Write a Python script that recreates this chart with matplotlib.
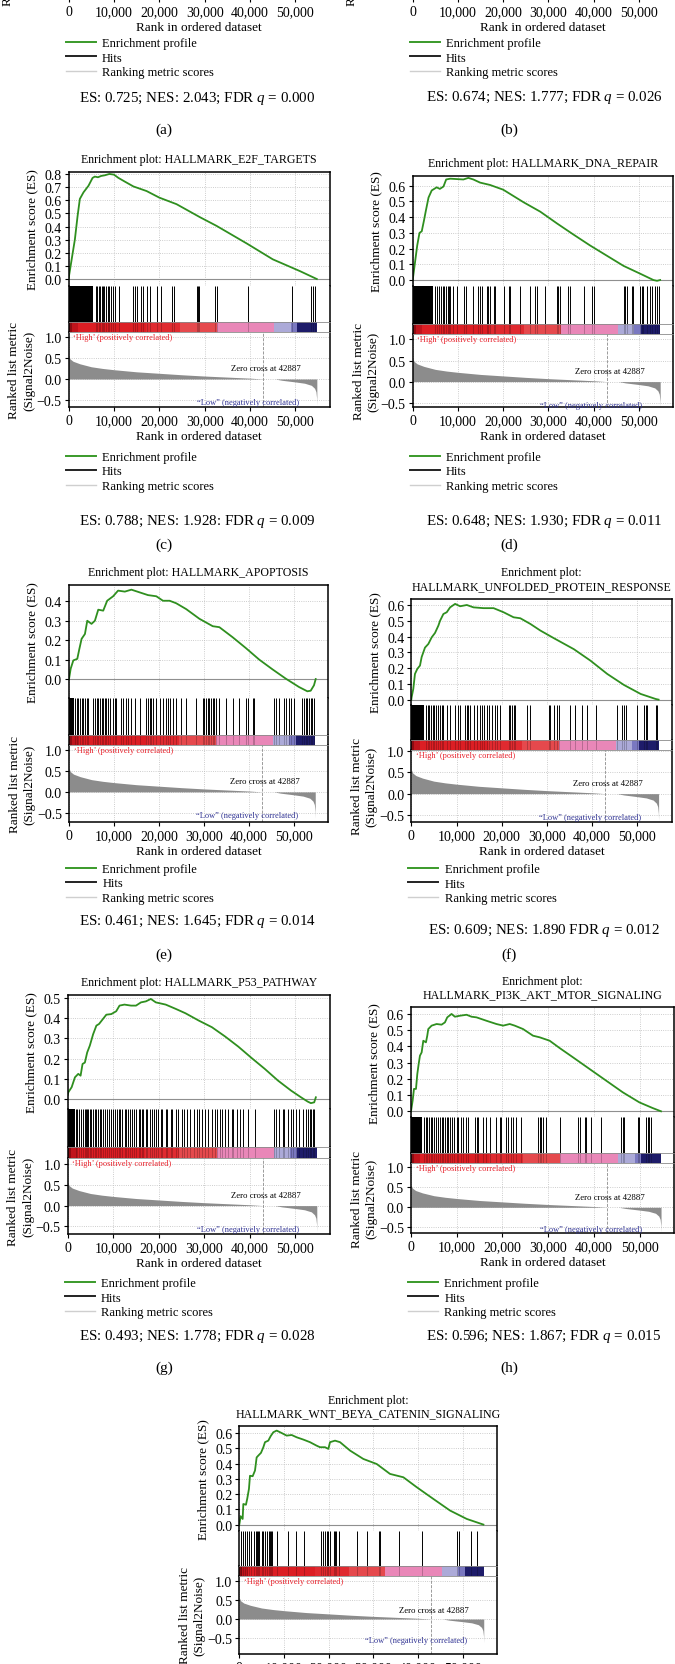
import numpy as np
import matplotlib
matplotlib.use('Agg')
import matplotlib.pyplot as plt
from matplotlib import ticker
from matplotlib.lines import Line2D

plt.rcParams['font.family'] = ['Liberation Serif', 'DejaVu Serif']
plt.rcParams['mathtext.fontset'] = 'custom'
plt.rcParams['mathtext.rm'] = 'Liberation Serif'
plt.rcParams['mathtext.it'] = 'Liberation Serif:italic'

W, H = 675, 1665
ZERO_CROSS = 42887
X_MAX = 57600

# ranked list metric, shared by every panel
rank_x = [0, 300, 1000, 2500, 5000, 7500, 10000, 15000, 20000, 25000, 30000, 35000, 40000, 42887,
          45500, 47000, 50000, 52000, 53500, 54200, 54500, 54650, 54700]
rank_y = [0.56, 0.48, 0.42, 0.36, 0.29, 0.25, 0.22, 0.17, 0.135, 0.10, 0.07, 0.045, 0.02, 0.0,
          0.0, -0.03, -0.07, -0.10, -0.15, -0.22, -0.30, -0.45, -0.62]

# colour bar blocks along the ranked list
cbar_edges = [0, 700, 2000, 17000, 24500, 32700, 45300, 48900, 50400, 54700]
cbar_colors = ['#8c0c12', '#c0141c', '#dc1e24', '#e02a30', '#e5494d', '#e987b8', '#acaad8', '#7a78c0',
               '#1e1c6a']

titles = {
    'c': 'Enrichment plot: HALLMARK_E2F_TARGETS',
    'd': 'Enrichment plot: HALLMARK_DNA_REPAIR',
    'e': 'Enrichment plot: HALLMARK_APOPTOSIS',
    'f': 'Enrichment plot:\nHALLMARK_UNFOLDED_PROTEIN_RESPONSE',
    'g': 'Enrichment plot: HALLMARK_P53_PATHWAY',
    'h': 'Enrichment plot:\nHALLMARK_PI3K_AKT_MTOR_SIGNALING',
    'i': 'Enrichment plot:\nHALLMARK_WNT_BEYA_CATENIN_SIGNALING',
}

stats = {
    'a': 'ES: 0.725; NES: 2.043; FDR $q$ = 0.000',
    'b': 'ES: 0.674; NES: 1.777; FDR $q$ = 0.026',
    'c': 'ES: 0.788; NES: 1.928: FDR $q$ = 0.009',
    'd': 'ES: 0.648; NES: 1.930; FDR $q$ = 0.011',
    'e': 'ES: 0.461; NES: 1.645; FDR $q$ = 0.014',
    'f': 'ES: 0.609; NES: 1.890 FDR $q$ = 0.012',
    'g': 'ES: 0.493; NES: 1.778; FDR $q$ = 0.028',
    'h': 'ES: 0.596; NES: 1.867; FDR $q$ = 0.015',
}

# running enrichment score
c_es_x = [0, 700, 1400, 2000, 2500, 3300, 4400, 5300, 5800, 6500, 7200, 8000, 9000, 10000, 11000, 12500,
          14300, 17200, 20000, 23800, 29000, 32600, 39300, 45000, 51000, 54700]
c_es_y = [0, 0.15, 0.30, 0.48, 0.61, 0.66, 0.71, 0.77, 0.78, 0.775, 0.785, 0.79, 0.80, 0.795, 0.77, 0.74,
          0.705, 0.67, 0.62, 0.57, 0.47, 0.405, 0.27, 0.15, 0.06, 0.0]
d_es_x = [0, 500, 1000, 1500, 2000, 2500, 2900, 3500, 4200, 5300, 6000, 6800, 7400, 8300, 11200, 12300,
          13400, 14900, 17100, 20000, 24500, 28200, 31900, 35500, 39200, 42900, 46600, 50300, 53200, 54000,
          54700]
d_es_y = [0, 0.11, 0.22, 0.30, 0.31, 0.38, 0.44, 0.525, 0.57, 0.59, 0.58, 0.595, 0.64, 0.645, 0.64, 0.65,
          0.64, 0.62, 0.605, 0.575, 0.495, 0.435, 0.36, 0.29, 0.22, 0.155, 0.09, 0.04, 0.0, -0.005, 0.0]
e_es_x = [0, 370, 960, 1840, 2300, 2800, 3540, 4060, 5000, 5750, 6500, 7600, 8480, 9800, 10900, 12400,
          13860, 15700, 17550, 19400, 20870, 22350, 23820, 26030, 28980, 31930, 33400, 36360, 39310, 42260,
          45200, 48160, 51100, 52950, 53690, 54420, 54800]
e_es_y = [0, 0.053, 0.096, 0.104, 0.155, 0.207, 0.232, 0.30, 0.284, 0.30, 0.357, 0.352, 0.403, 0.426,
          0.455, 0.45, 0.46, 0.446, 0.432, 0.426, 0.403, 0.403, 0.39, 0.36, 0.31, 0.272, 0.267, 0.215,
          0.159, 0.10, 0.05, 0.002, -0.041, -0.063, -0.06, -0.032, 0.0]
f_es_x = [0, 70, 440, 810, 1330, 1920, 2290, 3030, 3770, 4510, 5250, 6000, 6360, 7100, 7840, 8580, 9690,
          10800, 12280, 13760, 15980, 18200, 20410, 22630, 24110, 26330, 28550, 31510, 35950, 39640, 43340,
          47040, 50740, 54070, 54700]
f_es_y = [0, 0.015, 0.068, 0.163, 0.195, 0.216, 0.27, 0.33, 0.353, 0.395, 0.423, 0.47, 0.50, 0.543, 0.554,
          0.585, 0.607, 0.592, 0.60, 0.585, 0.58, 0.58, 0.554, 0.522, 0.516, 0.48, 0.438, 0.39, 0.32, 0.247,
          0.163, 0.093, 0.036, 0.004, 0.0]
g_es_x = [0, 145, 870, 1590, 2320, 2830, 3260, 3770, 4280, 4860, 5580, 6300, 6880, 7750, 8480, 9570,
          10650, 11380, 12460, 13910, 15000, 16090, 17170, 18260, 19350, 21520, 23700, 25870, 28770, 31670,
          34570, 37460, 40360, 43260, 46160, 49060, 51230, 52680, 53400, 54130, 54490]
g_es_y = [0.02, 0.033, 0.058, 0.107, 0.124, 0.115, 0.173, 0.18, 0.23, 0.264, 0.32, 0.363, 0.371, 0.396,
          0.417, 0.42, 0.434, 0.462, 0.467, 0.462, 0.462, 0.478, 0.483, 0.495, 0.478, 0.467, 0.446, 0.424,
          0.388, 0.355, 0.309, 0.259, 0.203, 0.149, 0.091, 0.041, 0.008, -0.013, -0.021, -0.017, 0.008]
h_es_x = [0, 360, 650, 1090, 1380, 1670, 1960, 2330, 2690, 3270, 3560, 3780, 4510, 5600, 6690, 7420, 7930,
          8870, 9600, 10690, 12150, 13240, 14330, 16510, 18690, 20150, 21600, 22690, 24510, 26690, 28150,
          30330, 32510, 35420, 39050, 42690, 46330, 49960, 52870, 54690]
h_es_y = [0, 0.066, 0.138, 0.138, 0.23, 0.29, 0.343, 0.363, 0.435, 0.425, 0.466, 0.507, 0.528, 0.538,
          0.534, 0.548, 0.579, 0.60, 0.583, 0.589, 0.595, 0.583, 0.579, 0.558, 0.538, 0.528, 0.538, 0.528,
          0.507, 0.466, 0.456, 0.435, 0.39, 0.333, 0.261, 0.189, 0.117, 0.055, 0.02, 0.0]
i_es_x = [0, 300, 750, 900, 1490, 1790, 2160, 2390, 2990, 3510, 3880, 4250, 4850, 5370, 5750, 6490, 7010,
          7610, 8360, 9480, 10600, 11720, 12840, 14330, 15820, 17310, 18060, 19180, 19930, 20300, 21420,
          22540, 24780, 27760, 30750, 33730, 36720, 39700, 43430, 47160, 50900, 54630]
i_es_y = [0, 0.055, 0.037, 0.135, 0.13, 0.172, 0.234, 0.32, 0.317, 0.354, 0.44, 0.452, 0.47, 0.506, 0.54,
          0.55, 0.579, 0.605, 0.616, 0.60, 0.583, 0.587, 0.572, 0.557, 0.54, 0.517, 0.507, 0.507, 0.496,
          0.54, 0.55, 0.54, 0.485, 0.43, 0.397, 0.332, 0.31, 0.245, 0.168, 0.092, 0.037, 0.0]

# gene-set hits: ranges too dense to resolve, then single hits
c_dense = [(0, 5400)]
c_hits = [6000, 6300, 6700, 7000, 7300, 7600, 7900, 8200, 8600, 9000, 9300, 9800, 10300, 11200, 14300,
          14650, 15100, 15900, 16500, 17300, 17900, 19500, 20300, 22700, 23300, 28200, 28500, 28800, 32300,
          32700, 39600, 49200, 53500, 53900, 54300]
d_dense = [(0, 4500)]
d_hits = [5000, 5400, 5800, 6200, 6600, 7000, 7300, 7700, 8000, 8300, 9000, 9700, 11400, 11700, 13400,
          14500, 14900, 15300, 16400, 16700, 17100, 17900, 18200, 20100, 21200, 21500, 23700, 26000, 27100,
          27400, 29300, 31900, 32200, 32600, 34400, 34800, 37800, 39600, 40000, 46600, 47000, 47300, 48400,
          48800, 50300, 50700, 51000, 51800, 52500, 52900, 53600, 54000, 54400]
e_dense = [(0, 1000)]
e_hits = [1330, 1700, 2060, 2430, 2800, 3020, 3540, 3910, 4280, 5380, 5750, 6120, 6490, 6860, 7230, 7600,
          7960, 8330, 8700, 9070, 9810, 10180, 10550, 11650, 12020, 12760, 13130, 13860, 14600, 15710,
          17180, 17550, 17920, 18290, 18660, 19400, 20130, 20870, 21610, 21980, 22340, 23080, 23820, 24930,
          26030, 28240, 29720, 30090, 30460, 30830, 31190, 31560, 31930, 32300, 32670, 33410, 34880, 36360,
          37830, 39310, 39680, 40780, 41150, 45580, 45940, 46680, 47790, 48160, 48890, 49260, 50000, 51840,
          52210, 52580, 52950, 53320, 53690, 54060, 54420]
f_dense = [(0, 2800)]
f_hits = [3200, 3600, 3900, 4300, 4700, 5000, 5400, 5800, 6360, 6730, 7100, 7840, 8580, 9690, 10430,
          10800, 11910, 12280, 12650, 13020, 13760, 14500, 15240, 15610, 15980, 16720, 17090, 17830, 18570,
          18930, 19530, 21520, 21890, 22260, 22630, 23000, 25590, 26330, 30400, 30770, 31510, 32250, 32620,
          35210, 36320, 37800, 38910, 40750, 45560, 46670, 47040, 47410, 50000, 51480, 51850, 52220, 54070,
          54440]
g_dense = [(0, 1600)]
g_hits = [1800, 2100, 2500, 3000, 3400, 3800, 4000, 4300, 4500, 4900, 5200, 5600, 5900, 6300, 6700, 7000,
          7400, 7700, 8300, 8600, 9000, 9400, 9900, 10300, 10800, 11200, 11500, 11900, 12500, 12800, 13200,
          13700, 14100, 14600, 15100, 15600, 15900, 16300, 16600, 17200, 17500, 18000, 18500, 19000, 19300,
          19900, 20400, 20800, 21500, 21900, 22600, 22900, 23700, 24300, 25000, 25500, 26200, 26900, 27700,
          28400, 28800, 29500, 30100, 30800, 31700, 32400, 32800, 33500, 33900, 34600, 35100, 36000, 36400,
          37100, 37800, 38600, 39600, 41100, 45400, 45800, 46500, 47300, 47600, 48300, 49100, 49400, 50100,
          50900, 51600, 52300, 52700, 53100, 53400, 53800, 54100]
h_dense = [(0, 2500)]
h_hits = [2900, 3300, 3600, 3900, 4300, 4700, 5100, 5500, 5900, 6300, 6700, 7000, 7400, 7800, 8100, 8500,
          8900, 9300, 9960, 10330, 10840, 11420, 12000, 12510, 13960, 14330, 14690, 15780, 16510, 17240,
          18690, 19420, 19780, 20870, 21240, 21960, 22330, 23050, 24150, 27780, 28150, 28510, 28870, 29600,
          32510, 36510, 36870, 37960, 38330, 39420, 41600, 45960, 46330, 46690, 49600, 49960, 51420, 51780,
          52150, 52510]
i_dense = []
i_hits = [300, 750, 1270, 1790, 2240, 2540, 3280, 3730, 3880, 4100, 4400, 5000, 5370, 5750, 6270, 6640,
          6870, 7090, 7390, 8360, 10820, 12690, 14480, 18210, 18660, 19180, 19550, 19930, 20300, 21190,
          21420, 21570, 22390, 26270, 28510, 31340, 31490, 35820, 40820, 48660, 49250, 51790, 53130]

# page layout in pixels (x: left/right of the frame, y: es top, es bottom, colour bar top/bottom, bottom)
LAYOUT = {
    'a': dict(x=(68.5, 330), y=(-76, -1), legend=42.3, stats=98.3, tag=130),
    'b': dict(x=(412.7, 673.3), y=(-76, -1), legend=42.3, stats=97.7, tag=130),
    'c': dict(x=(68.5, 330), y=(173, 287, 323.3, 332.7, 408.3), es=(-0.053, 0.815), rk=(-0.67, 1.12),
              legend=456, stats=521, tag=545),
    'd': dict(x=(412.7, 673.3), y=(176.7, 287.3, 325, 335, 408.3), es=(-0.04, 0.664), rk=(-0.61, 1.13),
              legend=456, stats=521, tag=545),
    'e': dict(x=(69, 328.3), y=(586, 699.3, 736, 746, 823.3), es=(-0.099, 0.484), rk=(-0.72, 1.11),
              legend=868, stats=921.7, tag=955.5),
    'f': dict(x=(411.3, 671.7), y=(600, 706, 741, 750.7, 823.3), es=(-0.034, 0.638), rk=(-0.665, 1.02),
              legend=868.3, stats=931, tag=955),
    'g': dict(x=(67.7, 330), y=(995.7, 1110, 1148.3, 1159, 1235), es=(-0.05, 0.516), rk=(-0.68, 1.14),
              legend=1282.3, stats=1336.7, tag=1368.3),
    'h': dict(x=(411, 674.3), y=(1008.3, 1118.3, 1154.3, 1164.3, 1234.3), es=(-0.037, 0.641),
              rk=(-0.65, 1.1), legend=1282.3, stats=1336.7, tag=1368.3),
    'i': dict(x=(239.3, 496.7), y=(1427.3, 1531.7, 1566.7, 1576.7, 1655), es=(-0.04, 0.644),
              rk=(-0.92, 1.14)),
}

GREEN = '#2f8f1f'
GRID = dict(ls=':', color='#bdbdbd', lw=0.6)
TICK_FS = 10
LABEL_FS = 9.5


def px_axes(fig, left, top, right, bottom):
    return fig.add_axes([left / W, 1 - bottom / H, (right - left) / W, (bottom - top) / H])


def minus(v, pos):
    return f'{v:.1f}'.replace('-', '\u2212')


def style_frame(ax, outer, inner):
    for side in ('left', 'right', 'top', 'bottom'):
        sp = ax.spines[side]
        if side in outer:
            sp.set_color('black')
            sp.set_linewidth(1.1)
        elif side in inner:
            sp.set_color('#8a8a8a')
            sp.set_linewidth(0.6)
        else:
            sp.set_visible(False)


def ranked_axes(fig, lay, top, bottom, stub=False):
    l, r = lay['x']
    ax = px_axes(fig, l, top, r, bottom)
    ax.set_xlim(0, X_MAX)
    ax.set_xticks(range(0, 50001, 10000))
    ax.set_xticklabels([f'{v:,}' for v in range(0, 50001, 10000)])
    ax.tick_params(labelsize=TICK_FS, length=3, width=0.8, pad=2)
    ax.set_xlabel('Rank in ordered dataset', fontsize=LABEL_FS, labelpad=2)
    ax.set_ylabel('Ranked list metric\n(Signal2Noise)', fontsize=LABEL_FS, linespacing=1.3)
    if stub:
        ax.set_yticks([])
        ax.yaxis.set_label_coords(-40 / (r - l), 0.55)
    else:
        ax.set_yticks([-0.5, 0.0, 0.5, 1.0])
        ax.yaxis.set_major_formatter(ticker.FuncFormatter(minus))
        ax.yaxis.set_label_coords(-33.5 / (r - l), 0.5)
    style_frame(ax, ('left', 'right', 'bottom'), ('top',))
    return ax


def add_captions(fig, key):
    lay = LAYOUT[key]
    l, r = lay['x']
    right_col = l > 300
    handles = [Line2D([], [], color='#3a9a2a', lw=1.4), Line2D([], [], color='#222222', lw=1.4),
               Line2D([], [], color='#cfcfcf', lw=1.0)]
    fig.legend(handles, ['Enrichment profile', 'Hits', 'Ranking metric scores'], loc='upper left',
               bbox_to_anchor=((l - 3) / W, 1 - (lay['legend'] - 4) / H), frameon=False, fontsize=9,
               handlelength=2.4, handletextpad=0.5, labelspacing=0.2, borderpad=0, borderaxespad=0)
    fig.text((544 if right_col else 197) / W, 1 - lay['stats'] / H, stats[key], ha='center', va='center',
             fontsize=10.8)
    fig.text((509 if right_col else 164) / W, 1 - lay['tag'] / H, f'({key})', ha='center', va='center',
             fontsize=11)


def enrichment_panel(fig, key, es_x, es_y, hits, dense):
    lay = LAYOUT[key]
    l, r = lay['x']
    t, e, c1, c2, b = lay['y']

    ax_es = px_axes(fig, l, t, r, e)
    ax_es.set_xlim(0, X_MAX)
    ax_es.set_ylim(*lay['es'])
    ax_es.set_axisbelow(True)
    ax_es.grid(True, **GRID)
    ax_es.axhline(0, color='#8f8f8f', lw=0.8)
    ax_es.plot(es_x, es_y, color=GREEN, lw=1.3)
    ax_es.set_xticks(range(0, 50001, 10000))
    ax_es.yaxis.set_major_locator(ticker.MultipleLocator(0.1))
    ax_es.yaxis.set_major_formatter(ticker.FuncFormatter(minus))
    ax_es.tick_params(axis='x', bottom=False, labelbottom=False)
    ax_es.tick_params(axis='y', labelsize=TICK_FS, length=3, width=0.8, pad=2)
    ax_es.set_ylabel('Enrichment score (ES)', fontsize=LABEL_FS)
    ax_es.yaxis.set_label_coords(-30.5 / (r - l), 0.5)
    ax_es.set_title(titles[key], fontsize=8.6, pad=7, linespacing=1.2)
    style_frame(ax_es, ('left', 'right', 'top'), ('bottom',))

    ax_hit = px_axes(fig, l, e, r, c1)
    ax_hit.set_xlim(0, X_MAX)
    ax_hit.set_ylim(0, 1)
    ax_hit.vlines(hits, 0, 1, colors='black', lw=0.7)
    for start, end in dense:
        ax_hit.broken_barh([(start, end - start)], (0, 1), facecolors='black')
    ax_hit.set_xticks([])
    ax_hit.set_yticks([])
    style_frame(ax_hit, ('left', 'right'), ())

    ax_cb = px_axes(fig, l, c1, r, c2)
    ax_cb.set_xlim(0, X_MAX)
    ax_cb.set_ylim(0, 1)
    blocks = [(cbar_edges[k], cbar_edges[k + 1] - cbar_edges[k]) for k in range(len(cbar_colors))]
    ax_cb.broken_barh(blocks, (0, 1), facecolors=cbar_colors)
    ax_cb.vlines(hits, 0, 1, colors='black', lw=0.5, alpha=0.3)
    ax_cb.set_xticks([])
    ax_cb.set_yticks([])
    style_frame(ax_cb, ('left', 'right'), ('top', 'bottom'))

    ax_rk = ranked_axes(fig, lay, c2, b)
    ax_rk.set_ylim(*lay['rk'])
    ax_rk.set_axisbelow(True)
    ax_rk.grid(True, **GRID)
    ax_rk.fill_between(rank_x, rank_y, 0, color='#8c8c8c', lw=0)
    ax_rk.axvline(ZERO_CROSS, color='#8c8c8c', ls='--', lw=0.6)
    ax_rk.text(0.018, 0.985, '\u2018High\u2019 (positively correlated)', transform=ax_rk.transAxes,
               ha='left', va='top', fontsize=6, color='#e8202a')
    ax_rk.text(43500, 0.25, 'Zero cross at 42887', ha='center', va='center', fontsize=6.3)
    ax_rk.text(39500, -0.55, '\u201cLow\u201d (negatively correlated)', ha='center', va='center',
               fontsize=6, color='#2e3192')


fig = plt.figure(figsize=(W / 100, H / 100), dpi=100)

for key in ('a', 'b'):
    lay = LAYOUT[key]
    ranked_axes(fig, lay, *lay['y'], stub=True)
    add_captions(fig, key)

enrichment_panel(fig, 'c', c_es_x, c_es_y, c_hits, c_dense)
enrichment_panel(fig, 'd', d_es_x, d_es_y, d_hits, d_dense)
enrichment_panel(fig, 'e', e_es_x, e_es_y, e_hits, e_dense)
enrichment_panel(fig, 'f', f_es_x, f_es_y, f_hits, f_dense)
enrichment_panel(fig, 'g', g_es_x, g_es_y, g_hits, g_dense)
enrichment_panel(fig, 'h', h_es_x, h_es_y, h_hits, h_dense)
enrichment_panel(fig, 'i', i_es_x, i_es_y, i_hits, i_dense)
for key in ('c', 'd', 'e', 'f', 'g', 'h'):
    add_captions(fig, key)

fig.savefig('out.png', dpi=100)
